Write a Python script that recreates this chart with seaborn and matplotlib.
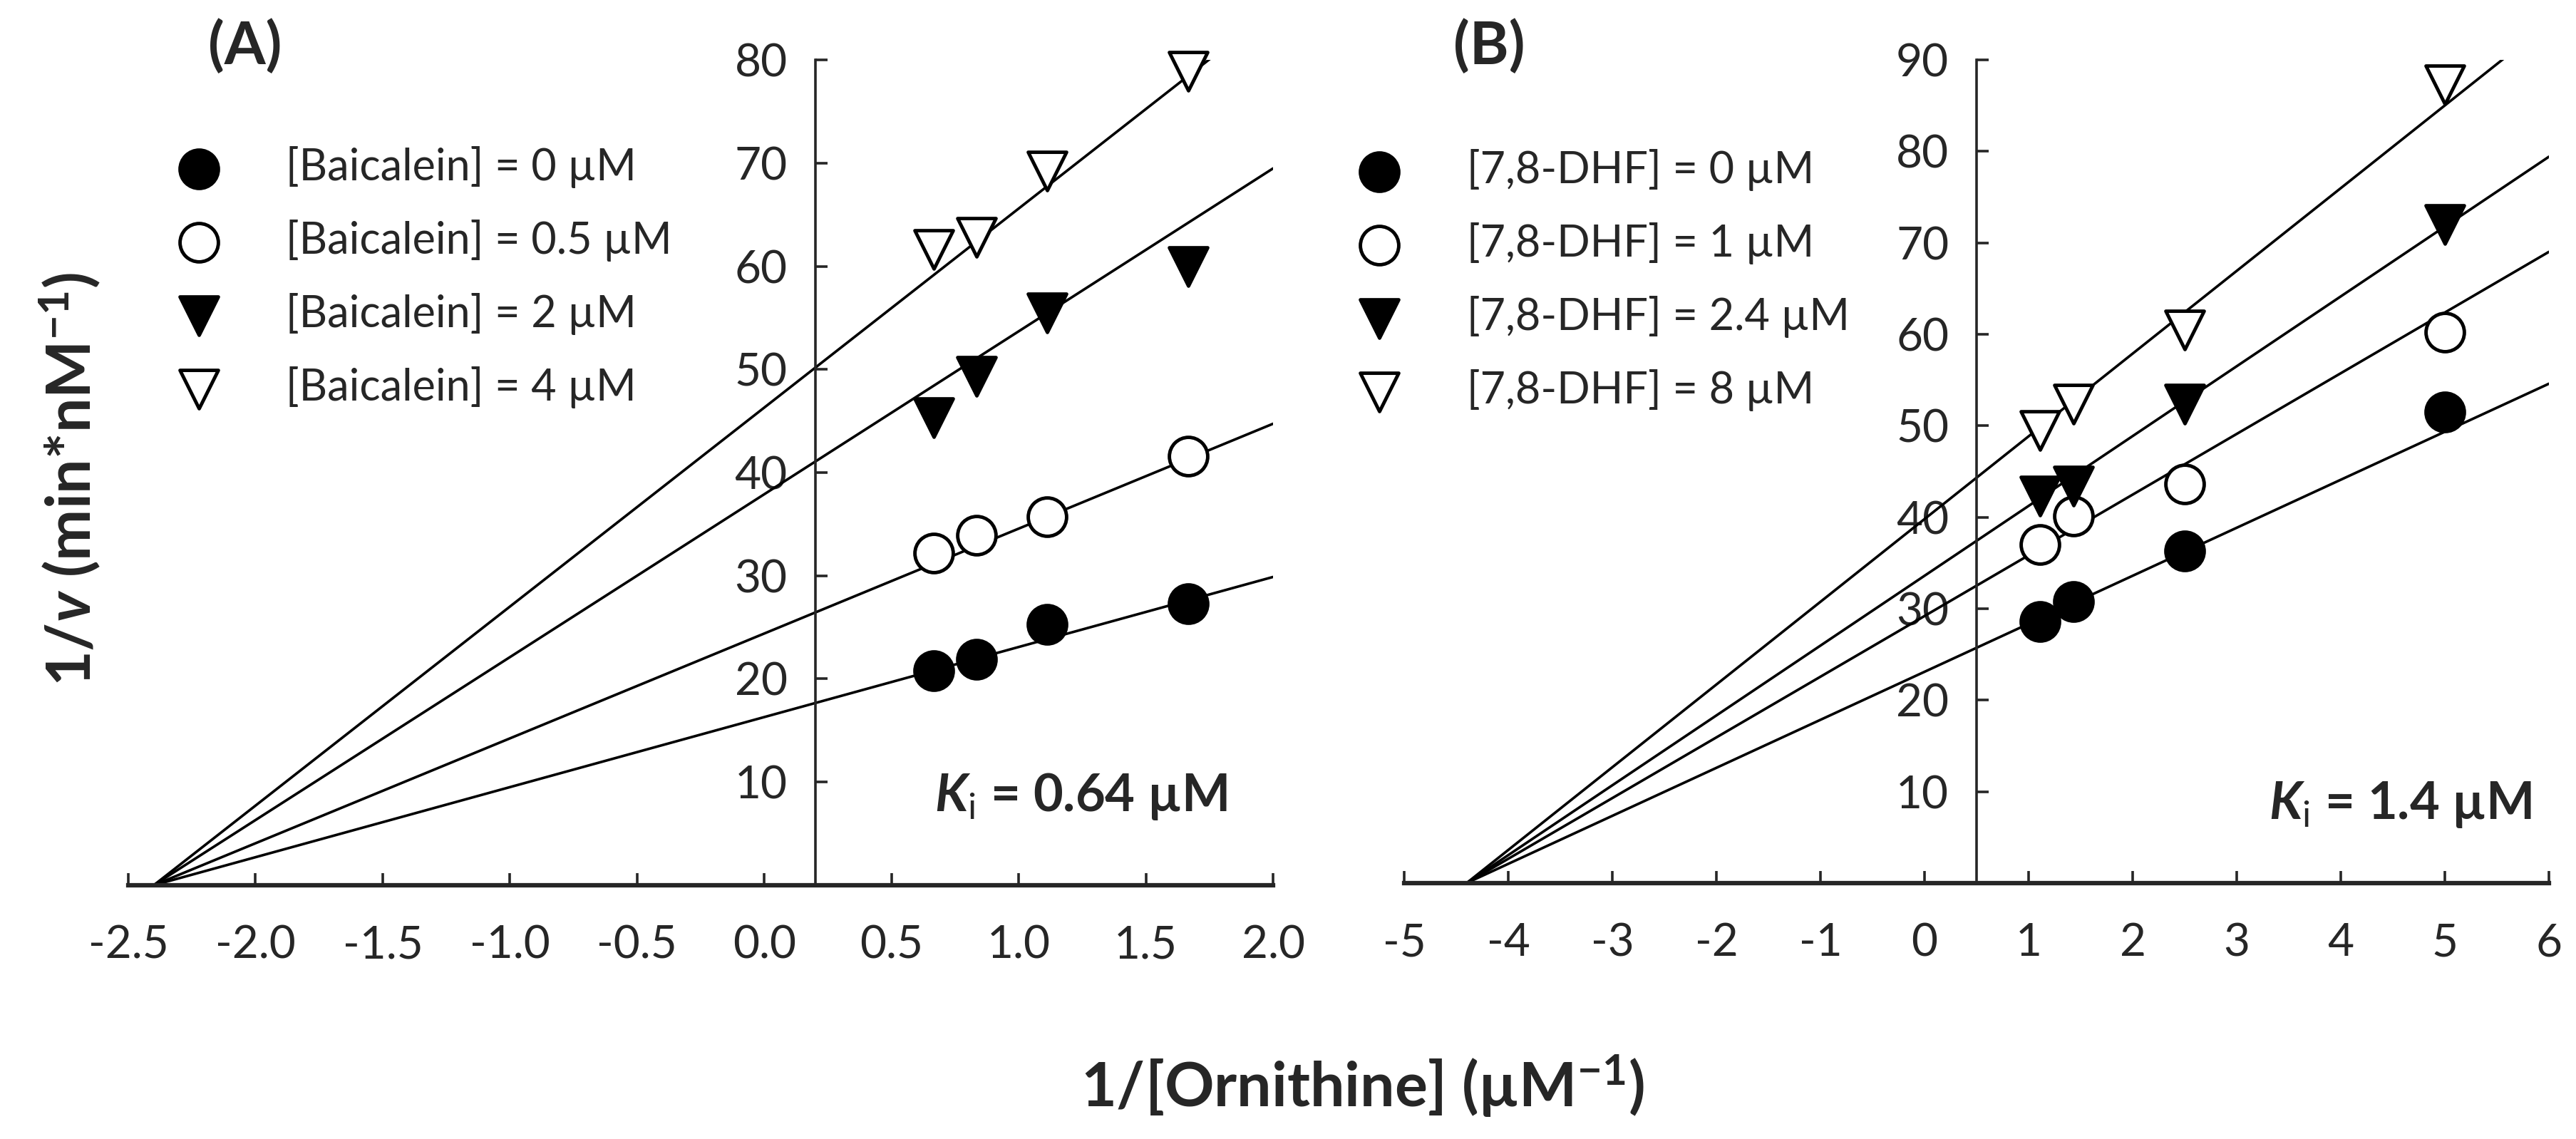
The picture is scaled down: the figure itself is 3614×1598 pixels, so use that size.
import numpy as np
import pandas as pd
import seaborn as sns
import matplotlib.pyplot as plt

# ---- data ----
# panel A: baicalein
a_x = [0.667, 0.833, 1.111, 1.667]
a_y_0 = [20.8, 21.9, 25.3, 27.3]
a_y_05 = [32.2, 33.9, 35.7, 41.6]
a_y_2 = [45.3, 49.3, 55.5, 60.0]
a_y_4 = [61.6, 62.8, 69.2, 78.9]
a_labels = ["[Baicalein] = 0 µM", "[Baicalein] = 0.5 µM",
            "[Baicalein] = 2 µM", "[Baicalein] = 4 µM"]
a_intercepts = [16.3, 24.4, 37.9, 46.3]   # 1/v at x = 0 of fitted lines
a_xint = -2.4                              # common x-intercept
a_ki = "0.64"

# panel B: 7,8-DHF
b_x = [1.111, 1.429, 2.5, 5.0]
b_y_0 = [28.6, 30.8, 36.3, 51.5]
b_y_1 = [37.0, 40.1, 43.6, 60.2]
b_y_24 = [42.3, 43.4, 52.4, 72.0]
b_y_8 = [49.5, 52.4, 60.5, 87.3]
b_labels = ["[7,8-DHF] = 0 µM", "[7,8-DHF] = 1 µM",
            "[7,8-DHF] = 2.4 µM", "[7,8-DHF] = 8 µM"]
b_intercepts = [23.1, 29.2, 33.6, 39.8]
b_xint = -4.4
b_ki = "1.4"

a_xticks = [-2.5, -2.0, -1.5, -1.0, -0.5, 0.0, 0.5, 1.0, 1.5, 2.0]
b_xticks = [-5, -4, -3, -2, -1, 0, 1, 2, 3, 4, 5, 6]

sns.set_theme(style="ticks")
plt.rcParams["font.family"] = ["Lato", "DejaVu Sans"]
plt.rcParams["mathtext.fontset"] = "custom"
plt.rcParams["mathtext.rm"] = "Lato"
plt.rcParams["mathtext.it"] = "Lato:italic"
plt.rcParams["mathtext.bf"] = "Lato:bold"
plt.rcParams["mathtext.bfit"] = "Lato:italic:bold"
plt.rcParams["axes.unicode_minus"] = False

markers = [("o", "black"), ("o", "white"), ("v", "black"), ("v", "white")]

fig = plt.figure(figsize=(36.14, 15.98), dpi=100)
ax_a = fig.add_axes([0.0498, 0.2228, 0.4444, 0.7246])
ax_b = fig.add_axes([0.5451, 0.2247, 0.4444, 0.7227])


def draw_panel(ax, xs, ys_list, labels, intercepts, xint, xlim, ylim, yaxis_x,
               xticks, xfmt, ki, ki_pos, leg_anchor):
    # fitted lines, all crossing the x axis at xint
    for b in intercepts:
        line = pd.DataFrame({"x": [xint, xlim[1]],
                             "y": [0.0, b * (1 - xlim[1] / xint)]})
        sns.lineplot(data=line, x="x", y="y", ax=ax, color="black",
                     linewidth=2.6, zorder=2)
    # data points
    for ys, (m, fc), lab in zip(ys_list, markers, labels):
        df = pd.DataFrame({"x": xs, "y": ys})
        sns.scatterplot(data=df, x="x", y="y", ax=ax, marker=m, s=1500,
                        color=fc, edgecolor="black", linewidth=3.5,
                        label=lab, zorder=3, clip_on=False)

    ax.set_xlim(*xlim)
    ax.set_ylim(*ylim)
    ax.set_xlabel("")
    ax.set_ylabel("")
    ax.spines["top"].set_visible(False)
    ax.spines["right"].set_visible(False)
    ax.spines["left"].set_position(("data", yaxis_x))
    ax.spines["left"].set_linewidth(2.6)
    ax.spines["bottom"].set_linewidth(4.5)
    ax.set_xticks(xticks)
    ax.set_xticklabels([xfmt.format(t) for t in xticks])
    ax.set_yticks(np.arange(10, ylim[1] + 1, 10))
    ax.tick_params(axis="x", direction="in", length=12, width=2.6,
                   pad=40, labelsize=46)
    ax.tick_params(axis="y", direction="in", length=12, width=2.6,
                   pad=28, labelsize=46)
    ax.patch.set_alpha(0)

    ax.text(ki_pos[0], ki_pos[1],
            r"$\mathbfit{K}_{\mathrm{i}}$" + " = " + ki + " µM",
            transform=ax.transAxes, ha="right", va="baseline",
            fontsize=52, fontweight="bold")

    ax.legend(loc="upper left", bbox_to_anchor=leg_anchor,
              bbox_transform=fig.transFigure, frameon=False, fontsize=44,
              handlelength=1.6, handletextpad=1.2, labelspacing=0.72,
              borderpad=0, borderaxespad=0, markerscale=1.0)


draw_panel(ax_a, a_x, [a_y_0, a_y_05, a_y_2, a_y_4], a_labels, a_intercepts,
           a_xint, (-2.5, 2.0), (0, 80), 0.2, a_xticks, "{:.1f}", a_ki,
           (0.96, 0.09), (0.0636, 0.872))
draw_panel(ax_b, b_x, [b_y_0, b_y_1, b_y_24, b_y_8], b_labels, b_intercepts,
           b_xint, (-5, 6), (0, 90), 0.5, b_xticks, "{:d}", b_ki,
           (0.985, 0.078), (0.522, 0.869))

fig.text(0.095, 0.959, "(A)", ha="center", va="center", fontsize=60,
         fontweight="bold")
fig.text(0.578, 0.959, "(B)", ha="center", va="center", fontsize=60,
         fontweight="bold")
fig.text(0.529, 0.028, r"1/[Ornithine] (µM$^{\mathbf{-1}}$)", ha="center",
         va="baseline", fontsize=62, fontweight="bold")
fig.text(0.027, 0.579, r"1/$\mathbfit{v}$ (min*nM$^{\mathbf{-1}}$)",
         ha="center", va="center", rotation=90, fontsize=62,
         fontweight="bold")

fig.savefig("out.png", dpi=100, facecolor="white")
